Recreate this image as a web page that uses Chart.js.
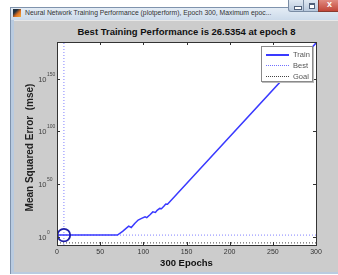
<!DOCTYPE html>
<html>
<head>
<meta charset="utf-8">
<script src="https://cdn.jsdelivr.net/npm/chart.js@4"></script>
<style>
  body { margin: 0; width: 338px; height: 275px; background: #fff; overflow: hidden; position: relative; font-family: "Liberation Sans", Arial, sans-serif; }
  .frame { position: absolute; left: 10px; top: 7px; width: 340px; height: 267px; background: #b9cbe0; border-left: 1px solid #7f93ad; border-top: 1px solid #7f93ad; box-sizing: border-box; }
  .titlebar { position: absolute; left: 11px; top: 8px; width: 330px; height: 12px; background: linear-gradient(#e4ecf5, #ccdaea); }
  .wintitle { position: absolute; left: 25px; top: 9px; font: 6.8px "Liberation Sans", Arial, sans-serif; color: #333; white-space: nowrap; }
  .icon { position: absolute; left: 13px; top: 9px; width: 8px; height: 8px; background: linear-gradient(135deg, #203040 30%, #e07020 60%, #f0b040); }
  .inner { position: absolute; left: 14px; top: 20px; width: 330px; height: 252px; background: #cccccc; border-top: 1px solid #e8e8e8; box-sizing: border-box; }
  .btn { position: absolute; top: 0; height: 12px; box-sizing: border-box; border: 1px solid #7a8ca4; border-top: none; }
  .min { left: 288px; width: 16px; background: linear-gradient(#dfe8f2, #b8c8dc); border-radius: 0 0 0 3px; }
  .max { left: 303px; width: 16px; background: linear-gradient(#dfe8f2, #b8c8dc); }
  .close { left: 318px; width: 22px; background: linear-gradient(#e08a80, #c24638); border-color: #8a3a30; }
  .min::after { content: ""; position: absolute; left: 5px; top: 6px; width: 6px; height: 2px; background: #fff; border: 1px solid #50607a; box-sizing: content-box; }
  .max::after { content: ""; position: absolute; left: 5px; top: 3px; width: 4px; height: 3px; border: 1px solid #50607a; border-top-width: 2px; background: #fff; }
  .close::after { content: "x"; position: absolute; left: 8px; top: -1px; font: bold 9px "Liberation Sans", Arial, sans-serif; color: #fff; }
  #title { position: absolute; left: 0; width: 373px; top: 26px; text-align: center; font: bold 9.5px "Liberation Sans", Arial, sans-serif; color: #111; white-space: nowrap; }
  canvas { position: absolute; left: 0; top: 0; }
  .legend { position: absolute; left: 261px; top: 46px; width: 52px; height: 36px; background: #fff; border: 1px solid #8a8a8a; box-sizing: border-box; box-shadow: 1px 1px 0 #bbb; }
  .legend div { position: absolute; left: 4px; height: 10px; width: 46px; font: 7.5px "Liberation Sans", Arial, sans-serif; color: #555; }
  .legend span { position: absolute; left: 0; top: 5px; width: 23px; height: 0; }
  .legend b { position: absolute; left: 27px; top: 1px; font-weight: normal; }
</style>
</head>
<body>
<div class="frame"></div>
<div class="titlebar"></div>
<div class="icon"></div>
<div class="wintitle">Neural Network Training Performance (plotperform), Epoch 300, Maximum epoc...</div>
<div class="btn min"></div>
<div class="btn max"></div>
<div class="btn close"></div>
<div class="inner"></div>
<div id="title">Best Training Performance is 26.5354 at epoch 8</div>
<canvas id="perf" width="338" height="275"></canvas>
<div class="legend">
  <div style="top:2px"><span style="border-top:2px solid #3a3aff"></span><b>Train</b></div>
  <div style="top:13px"><span style="border-top:1px dotted #7070ff"></span><b>Best</b></div>
  <div style="top:24px"><span style="border-top:1px dotted #444"></span><b>Goal</b></div>
</div>
<script>
// training record
const trainEpochs = [0, 8, 70, 76, 83, 86, 90, 94, 98, 102, 104, 108, 111, 114, 116, 119, 121, 124, 126, 128, 300];
const trainMse = [30, 26.5354, 30, 1e5, 1e10, 5e8, 3e12, 5e15, 2e17, 6e18, 1e18, 1e21, 3e23, 8e22, 1e25, 6e26, 3e26, 1e29, 8e30, 6e30, 1e184];
const bestEpoch = 8;
const bestMse = 26.5354;
const goalMse = 1e-6;
const epochTicks = [0, 50, 100, 150, 200, 250, 300];
const mseTicks = [1, 1e50, 1e100, 1e150];
const mseTickExp = ['0', '50', '100', '150'];
const yMin = 1e-8, yMax = 1e185;
const yTitle = 'Mean Squared Error  (mse)';

const trainData = trainEpochs.map((e, i) => ({x: e, y: trainMse[i]}));

const matlabLook = {
  id: 'matlabLook',
  beforeDraw(chart) {
    const {ctx, chartArea: a} = chart;
    ctx.save();
    ctx.fillStyle = '#fff';
    ctx.fillRect(a.left, a.top, a.right - a.left, a.bottom - a.top);
    ctx.restore();
  },
  afterDraw(chart) {
    const {ctx, chartArea: a, scales} = chart;
    ctx.save();
    ctx.strokeStyle = '#333';
    ctx.lineWidth = 1;
    ctx.strokeRect(Math.round(a.left) + 0.5, Math.round(a.top) + 0.5, Math.round(a.right - a.left), Math.round(a.bottom - a.top));
    ctx.beginPath();
    epochTicks.forEach(v => {
      const px = Math.round(scales.x.getPixelForValue(v)) + 0.5;
      ctx.moveTo(px, a.bottom); ctx.lineTo(px, a.bottom - 3);
      ctx.moveTo(px, a.top); ctx.lineTo(px, a.top + 3);
    });
    mseTicks.forEach(v => {
      const py = Math.round(scales.y.getPixelForValue(v)) + 0.5;
      ctx.moveTo(a.left, py); ctx.lineTo(a.left + 3, py);
      ctx.moveTo(a.right, py); ctx.lineTo(a.right - 3, py);
    });
    ctx.stroke();
    // y tick labels as 10 with a raised exponent
    ctx.fillStyle = '#444';
    mseTicks.forEach((v, i) => {
      const py = scales.y.getPixelForValue(v);
      ctx.font = '7.5px "Liberation Sans", Arial, sans-serif';
      ctx.textAlign = 'right';
      ctx.textBaseline = 'alphabetic';
      ctx.fillText('10', a.left - 10.5, py + 3);
      ctx.font = '5px "Liberation Sans", Arial, sans-serif';
      ctx.textAlign = 'left';
      ctx.fillText(mseTickExp[i], a.left - 10, py - 3);
    });
    // y axis title, a bit below the middle like the MATLAB one
    ctx.translate(30, (a.top + a.bottom) / 2 + 4);
    ctx.rotate(-Math.PI / 2);
    ctx.fillStyle = '#222';
    ctx.font = 'bold 10px "Liberation Sans", Arial, sans-serif';
    ctx.textAlign = 'center';
    ctx.textBaseline = 'middle';
    ctx.fillText(yTitle, 0, 0);
    ctx.restore();
  }
};

new Chart(document.getElementById('perf'), {
  type: 'line',
  data: {
    datasets: [
      {
        label: 'Best point',
        type: 'scatter',
        data: [{x: bestEpoch, y: bestMse}],
        pointRadius: 6.3,
        pointBorderWidth: 1.8,
        pointBorderColor: '#1f1fa8',
        pointBackgroundColor: 'rgba(0,0,0,0)'
      },
      {
        label: 'Train',
        data: trainData,
        borderColor: '#3a3aff',
        borderWidth: 1.5,
        pointRadius: 0,
        tension: 0
      },
      {
        label: 'Best',
        data: [{x: bestEpoch, y: yMin}, {x: bestEpoch, y: yMax}],
        borderColor: '#8080ff',
        borderWidth: 1,
        borderDash: [1, 2],
        pointRadius: 0
      },
      {
        label: 'Best level',
        data: [{x: 0, y: bestMse}, {x: 300, y: bestMse}],
        borderColor: '#8080ff',
        borderWidth: 1,
        borderDash: [1, 2],
        pointRadius: 0
      },
      {
        label: 'Goal',
        data: [{x: 0, y: goalMse}, {x: 300, y: goalMse}],
        borderColor: '#444',
        borderWidth: 1,
        borderDash: [1, 2],
        pointRadius: 0
      }
    ]
  },
  options: {
    responsive: false,
    animation: false,
    events: [],
    layout: { padding: { left: 25, top: 42, right: 22, bottom: 6 } },
    plugins: { legend: { display: false }, tooltip: { enabled: false } },
    scales: {
      x: {
        type: 'linear',
        min: 0, max: 300,
        afterBuildTicks: s => { s.ticks = epochTicks.map(v => ({value: v})); },
        afterFit: s => { s.height = 24; },
        grid: { display: false, drawTicks: false },
        border: { display: false },
        ticks: { padding: 3, color: '#333', font: { size: 7, family: '"Liberation Sans", Arial, sans-serif' }, maxRotation: 0 },
        title: { display: true, text: '300 Epochs', color: '#111', padding: 0, font: { size: 9.5, weight: 'bold', family: '"Liberation Sans", Arial, sans-serif' } }
      },
      y: {
        type: 'logarithmic',
        min: yMin, max: yMax,
        afterBuildTicks: s => { s.ticks = mseTicks.map(v => ({value: v})); },
        afterFit: s => { s.width = 32; },
        grid: { display: false, drawTicks: false },
        border: { display: false },
        ticks: { display: false },
        title: { display: false }
      }
    }
  },
  plugins: [matlabLook]
});
</script>
</body>
</html>
